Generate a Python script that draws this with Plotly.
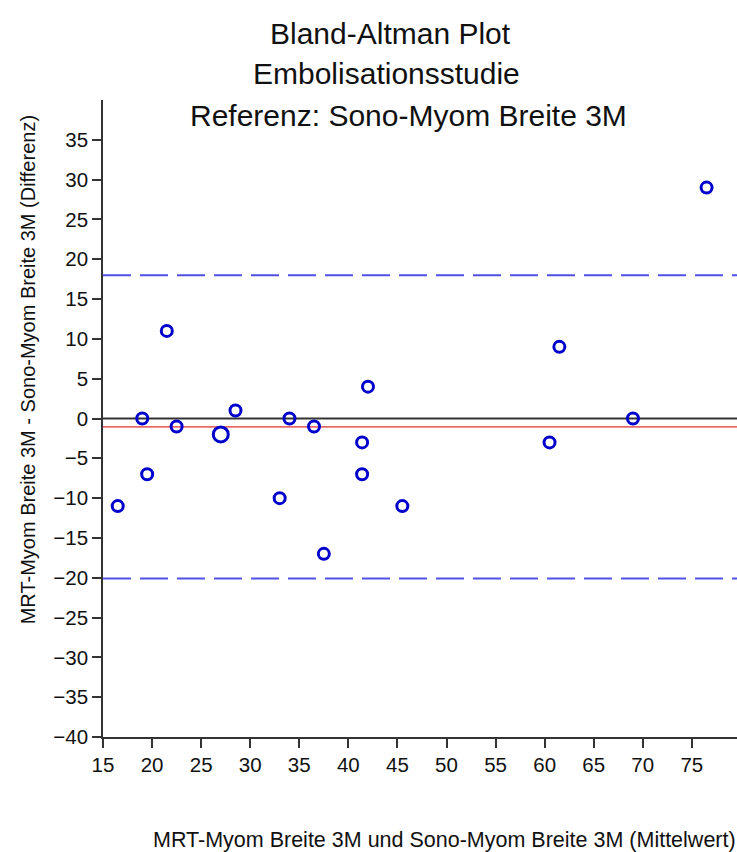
import numpy as np
import plotly.graph_objects as go

# Mittelwert (x) und Differenz (y) je Messpaar; anzahl = Anzahl identischer Paare
mittelwert = [16.5, 19.0, 19.5, 21.5, 22.5, 27.0, 28.5, 33.0, 34.0, 36.5,
              37.5, 41.4, 41.4, 42.0, 45.5, 60.5, 61.5, 69.0, 76.5]
differenz = [-11, 0, -7, 11, -1, -2, 1, -10, 0, -1,
             -17, -3, -7, 4, -11, -3, 9, 0, 29]
anzahl = [1, 1, 1, 1, 1, 2, 1, 1, 1, 1,
          1, 1, 1, 1, 1, 1, 1, 1, 1]

x_ticks = list(range(15, 80, 5))
y_ticks = list(range(-40, 40, 5))

# Bias und Übereinstimmungsgrenzen (Mittelwert ± 1.96 SD) aus allen Paaren
alle = np.repeat(differenz, anzahl)
bias = alle.mean()
sd = alle.std(ddof=1)
obere = bias + 1.96 * sd
untere = bias - 1.96 * sd

FONT = "Liberation Sans, Arial, sans-serif"
PL, PR, PT, PB = 102.7, 737.0, 100.0, 737.0
W, H = 737, 852


def px_x(p):
    return (p - PL) / (PR - PL)


def px_y(p):
    return (PB - p) / (PB - PT)


fig = go.Figure()

fig.add_trace(go.Scatter(
    x=mittelwert, y=differenz, mode="markers",
    marker=dict(symbol="circle",
                size=[11 if n == 1 else 15 for n in anzahl],
                color="rgba(255,255,255,0)", opacity=1,
                line=dict(width=3, color="#0000cc")),
    hoverinfo="x+y", showlegend=False,
))

shapes = [
    dict(type="line", xref="paper", x0=0, x1=1, yref="y", y0=0, y1=0,
         line=dict(color="#333333", width=2), layer="below"),
    dict(type="line", xref="paper", x0=0, x1=1, yref="y", y0=bias, y1=bias,
         line=dict(color="#e86a6a", width=1.6), layer="below"),
    dict(type="line", xref="paper", x0=0, x1=1, yref="y", y0=obere, y1=obere,
         line=dict(color="#5050e6", width=2, dash="28px,9px"), layer="below"),
    dict(type="line", xref="paper", x0=0, x1=1, yref="y", y0=untere, y1=untere,
         line=dict(color="#5050e6", width=2, dash="28px,9px"), layer="below"),
]

titel = [("Bland-Altman Plot", 390, 34),
         ("Embolisationsstudie", 386, 74),
         ("Referenz: Sono-Myom Breite 3M", 408, 115)]
annotations = []
for text, cx, cy in titel:
    annotations.append(dict(text=text, xref="paper", yref="paper",
                            x=px_x(cx), y=px_y(cy), xanchor="center",
                            yanchor="middle", showarrow=False,
                            font=dict(family=FONT, size=30, color="#111111")))

annotations.append(dict(
    text="MRT-Myom Breite 3M - Sono-Myom Breite 3M (Differenz)",
    xref="paper", yref="paper", x=px_x(28), y=px_y(370),
    xanchor="center", yanchor="middle", textangle=-90, showarrow=False,
    font=dict(family=FONT, size=20, color="#111111")))
annotations.append(dict(
    text="MRT-Myom Breite 3M und Sono-Myom Breite 3M (Mittelwert)",
    xref="paper", yref="paper", x=px_x(444), y=px_y(840),
    xanchor="center", yanchor="middle", showarrow=False,
    font=dict(family=FONT, size=21.5, color="#111111")))

axis_common = dict(showgrid=False, zeroline=False, showline=True,
                   linecolor="#333333", linewidth=1.5, ticks="outside",
                   ticklen=9, tickwidth=1.5, tickcolor="#333333",
                   tickfont=dict(family=FONT, size=20.5, color="#111111"))

fig.update_layout(
    width=W, height=H,
    margin=dict(l=PL, r=W - PR, t=PT, b=H - PB, pad=0),
    paper_bgcolor="white", plot_bgcolor="white",
    shapes=shapes, annotations=annotations,
    xaxis=dict(range=[15, 79.6], tickvals=x_ticks, **axis_common),
    yaxis=dict(range=[-40, 40], tickvals=y_ticks, **axis_common),
)

fig.write_html("out.html")
